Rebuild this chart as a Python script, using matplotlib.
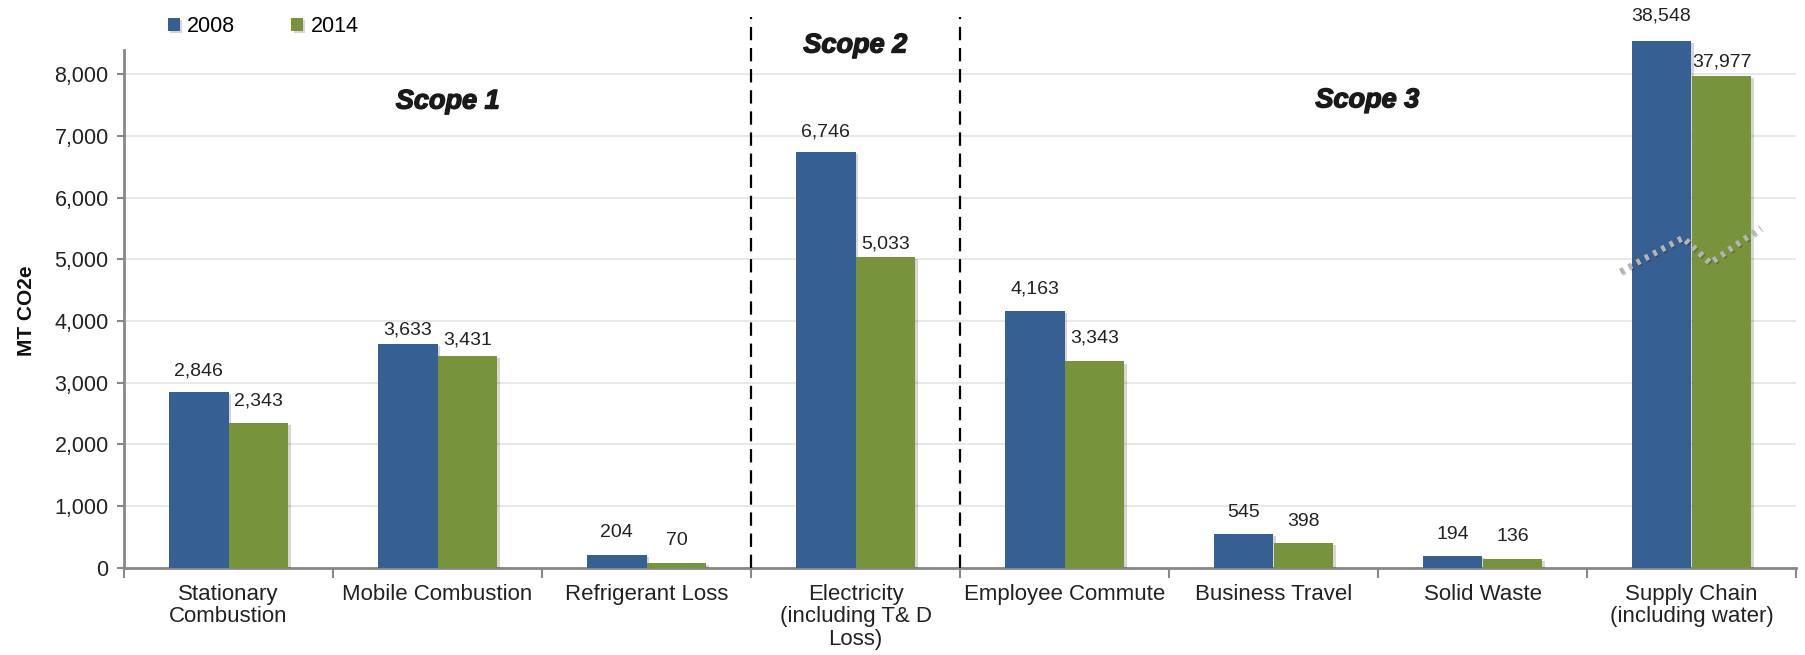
import matplotlib
matplotlib.use("Agg")
import matplotlib.pyplot as plt
import matplotlib.patheffects as pe
import numpy as np

plt.rcParams['font.family'] = ['Liberation Sans', 'DejaVu Sans']

categories = ["Stationary\nCombustion", "Mobile Combustion", "Refrigerant Loss",
              "Electricity\n(including T& D\nLoss)", "Employee Commute",
              "Business Travel", "Solid Waste", "Supply Chain\n(including water)"]
values_2008 = [2846, 3633, 204, 6746, 4163, 545, 194, 38548]
values_2014 = [2343, 3431, 70, 5033, 3343, 398, 136, 37977]
broken_category = 7          # bar drawn on a broken axis
break_offset = 30000         # amount cut out of the broken bars
break_zigzag_x = [6.66, 6.96, 7.09, 7.33]
break_zigzag_y = [4800, 5350, 4940, 5510]
scope_labels = ["Scope 1", "Scope 2", "Scope 3"]
scope_x = [1.05, 3.0, 5.45]
scope_y = [7560, 8470, 7580]
scope_dividers = [2.5, 3.5]
yticks = list(range(0, 9000, 1000))

# layout: distance (pixels) from bar top to the centre of its value label
label_gap_2008 = [21, 13.6, 22.7, 19.7, 21.7, 21.7, 21, 25]
label_gap_2014 = [22, 16, 22.3, 13.3, 23.3, 21.7, 22.7, 14]

blue = "#365F92"
green = "#77933C"

def shown(vals):
    return [v - break_offset if i == broken_category else v for i, v in enumerate(vals)]

W, H = 1805, 655
fig = plt.figure(figsize=(W / 100, H / 100), dpi=100)
ax = fig.add_axes([124 / W, 87.5 / H, (1796 - 124) / W, 567 / H])

x = np.arange(len(categories))
bw = 0.287
shadow = [pe.SimplePatchShadow(offset=(1.5, -1.5), shadow_rgbFace="#000000", alpha=0.16), pe.Normal()]
b1 = ax.bar(x - bw / 2, shown(values_2008), bw, color=blue, label="2008", zorder=3,
            path_effects=shadow)
b2 = ax.bar(x + bw / 2, shown(values_2014), bw, color=green, label="2014", zorder=3,
            path_effects=shadow)

for bars, vals, gaps in ((b1, values_2008, label_gap_2008), (b2, values_2014, label_gap_2014)):
    for rect, v, g in zip(bars, vals, gaps):
        ax.annotate(f"{v:,}", (rect.get_x() + rect.get_width() / 2, rect.get_height()),
                    xytext=(0, g * 1.0), textcoords="offset pixels", ha="center", va="center",
                    fontsize=14, color="#222222")

# axis break zigzag
ax.plot(break_zigzag_x, break_zigzag_y, color="#b5b5b5", lw=4.5, ls=(0, (0.6, 0.9)),
        solid_capstyle="butt", zorder=5,
        path_effects=[pe.SimpleLineShadow(offset=(1, -1), alpha=0.2), pe.Normal()])

# scope dividers
for d in scope_dividers:
    ax.plot([d, d], [0, 8930], color="black", lw=1.6, ls=(0, (6, 3.5)), zorder=4)

for s, sx, sy in zip(scope_labels, scope_x, scope_y):
    ax.text(sx, sy, s, ha="center", va="center", fontsize=19.5, fontweight="bold",
            fontstyle="italic", color="#1a1a1a",
            path_effects=[pe.withStroke(linewidth=1.0, foreground="#1a1a1a")])

ax.set_xlim(-0.5, len(categories) - 0.5)
ax.set_ylim(0, 9200)
ax.set_yticks(yticks)
ax.set_yticklabels([f"{t:,}" for t in yticks], fontsize=15.5, color="#222222")
ax.yaxis.grid(True, color="#e6e6e6", lw=1.3, zorder=0)
ax.set_axisbelow(True)
ax.tick_params(axis="y", length=5, width=1.5, color="#888888", pad=6)

ax.set_xticks(np.arange(-0.5, len(categories), 1.0))
ax.set_xticklabels([])
ax.tick_params(axis="x", which="major", length=7, width=1.5, color="#888888", direction="out")
ax.set_xticks(x, minor=True)
ax.set_xticklabels(categories, minor=True, fontsize=16, color="#222222", linespacing=1.08)
ax.tick_params(axis="x", which="minor", length=0, pad=12)

for s in ("top", "right"):
    ax.spines[s].set_visible(False)
for s in ("left", "bottom"):
    ax.spines[s].set_color("#888888")
    ax.spines[s].set_linewidth(2)
ax.spines["left"].set_bounds(0, 8400)

fig.text(27 / W, 1 - 311 / H, "MT CO2e", rotation=90, ha="center", va="center",
         fontsize=15, fontweight="bold", color="#111111")

fig.legend(handles=[b1, b2], labels=["2008", "2014"], loc="center left",
           bbox_to_anchor=(168 / W, 1 - 27 / H), ncol=2, frameon=False,
           fontsize=15.5, handlelength=0.55, handleheight=0.55, handletextpad=0.35,
           columnspacing=2.6, borderpad=0, borderaxespad=0)

fig.savefig("out.png", dpi=100)
